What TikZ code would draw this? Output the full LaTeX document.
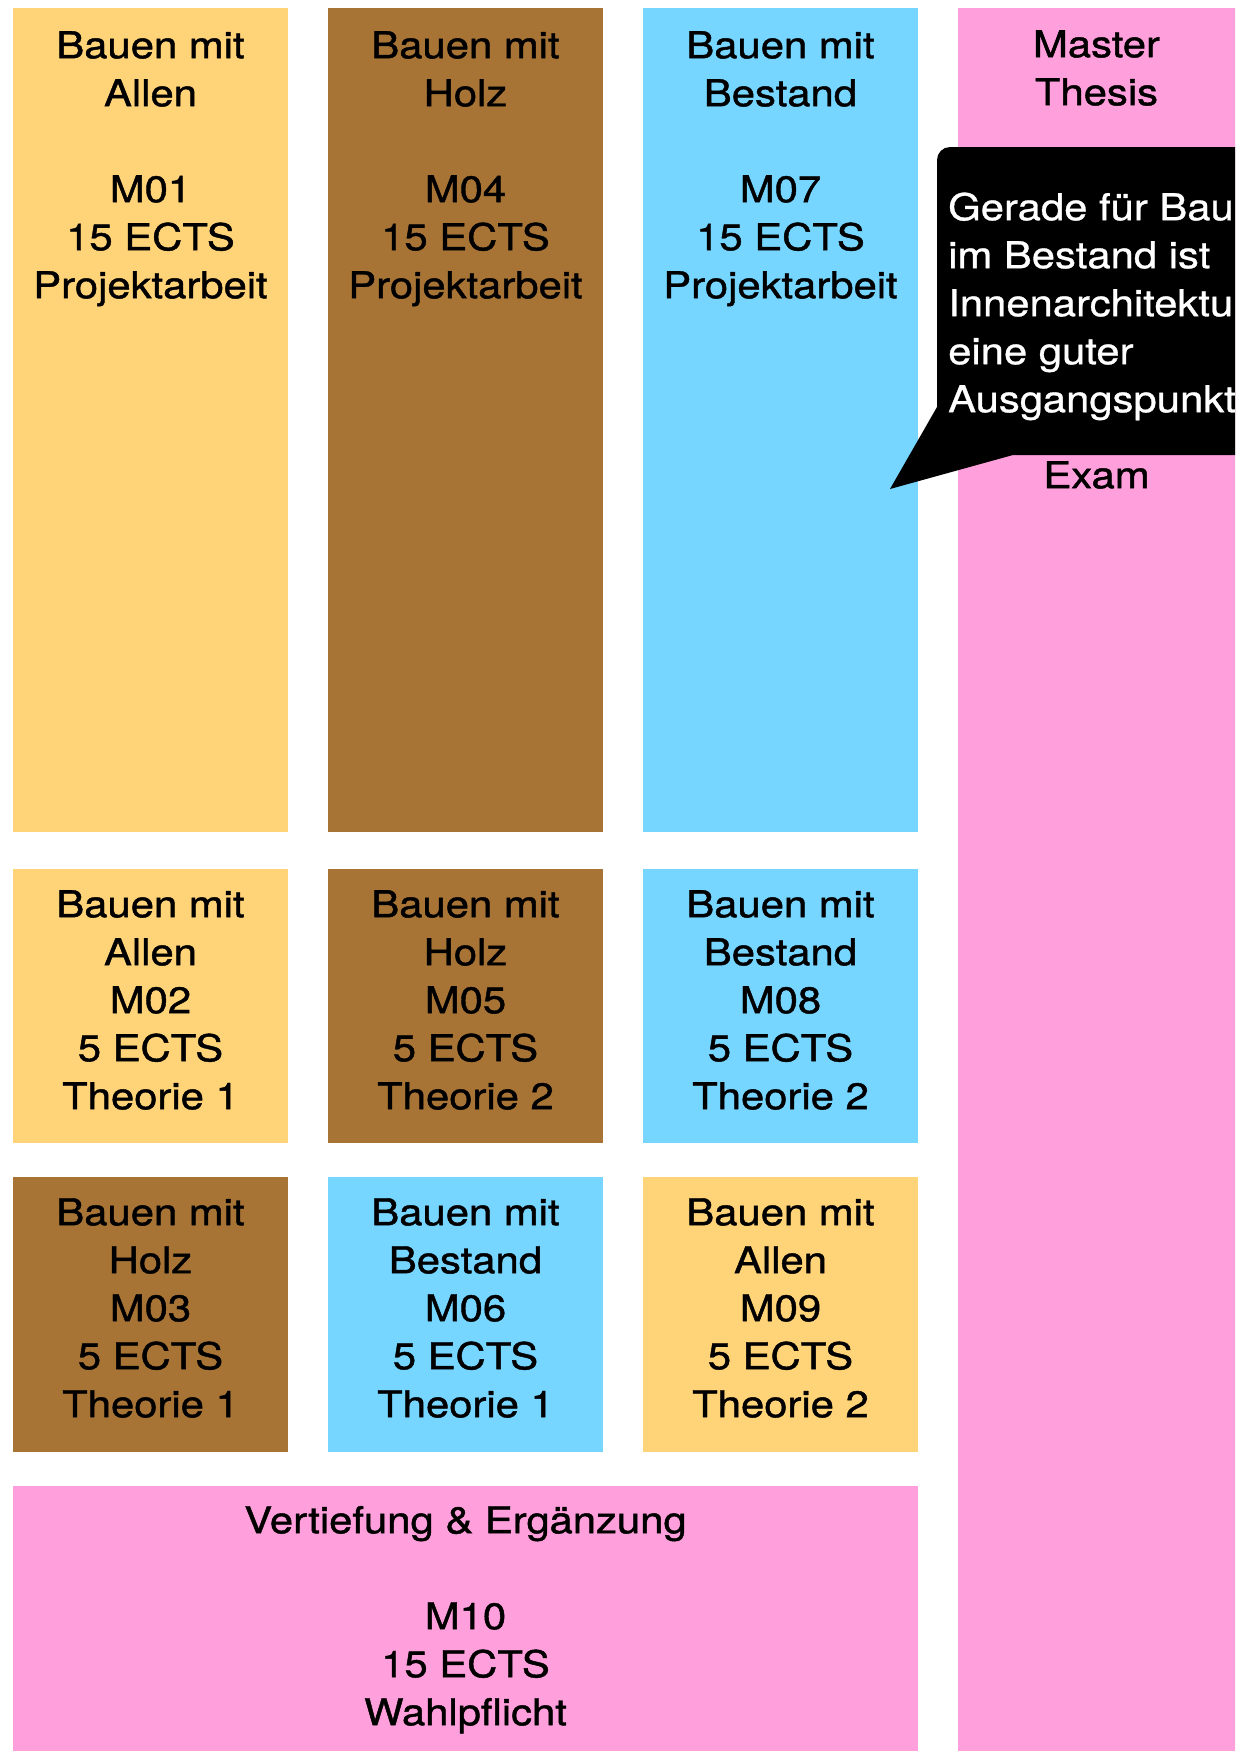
\documentclass[tikz,border=0pt]{standalone}
\usepackage{fontspec}
\newfontfamily\boxfont{TeX Gyre Heros}[FakeStretch=1.13,FakeBold=1.2]
\newfontfamily\notefont{TeX Gyre Heros}[FakeStretch=1.13,FakeBold=0.8]
\definecolor{cyel}{HTML}{FFD479}
\definecolor{cbrn}{HTML}{A87436}
\definecolor{cblu}{HTML}{76D6FF}
\definecolor{cpnk}{HTML}{FFA0DD}
\newcommand\myst{\rule{0pt}{37pt}}
\begin{document}
\begin{tikzpicture}[x=1pt,y=-1pt,
  modbox/.style={draw=none, inner sep=0pt, outer sep=0pt, anchor=north west, minimum width=275pt},
  lbl/.style={inner sep=0pt, align=center, anchor=north, font=\boxfont\fontsize{37}{48}\selectfont},
  notetext/.style={inner sep=0pt, align=left, anchor=north west, text=white, font=\notefont\fontsize{37}{48}\selectfont}]
\clip (0,0) rectangle (1235,1751);
\fill[white] (0,0) rectangle (1235,1751);
% top row
\node[modbox, fill=cyel, minimum height=824pt] (b01) at (13,8) {};
\node[modbox, fill=cbrn, minimum height=824pt] (b04) at (328,8) {};
\node[modbox, fill=cblu, minimum height=824pt] (b07) at (643,8) {};
% row 2
\node[modbox, fill=cyel, minimum height=274pt] (b02) at (13,869) {};
\node[modbox, fill=cbrn, minimum height=274pt] (b05) at (328,869) {};
\node[modbox, fill=cblu, minimum height=274pt] (b08) at (643,869) {};
% row 3
\node[modbox, fill=cbrn, minimum height=275pt] (b03) at (13,1177) {};
\node[modbox, fill=cblu, minimum height=275pt] (b06) at (328,1177) {};
\node[modbox, fill=cyel, minimum height=275pt] (b09) at (643,1177) {};
% bottom
\node[modbox, fill=cpnk, minimum width=905pt, minimum height=300pt] (b10) at (13,1486) {};
% master column
\node[modbox, fill=cpnk, minimum width=300pt, minimum height=1760pt] (b11) at (958,8) {};
% texts
\node[lbl] (t01) at (150.5,21) {\myst Bauen mit\\Allen\\[48pt]M01\\15 ECTS\\Projektarbeit};
\node[lbl] (t04) at (465.5,21) {\myst Bauen mit\\Holz\\[48pt]M04\\15 ECTS\\Projektarbeit};
\node[lbl] (t07) at (780.5,21) {\myst Bauen mit\\Bestand\\[48pt]M07\\15 ECTS\\Projektarbeit};
\node[lbl] (t02) at (150.5,880) {\myst Bauen mit\\Allen\\M02\\5 ECTS\\Theorie 1};
\node[lbl] (t05) at (465.5,880) {\myst Bauen mit\\Holz\\M05\\5 ECTS\\Theorie 2};
\node[lbl] (t08) at (780.5,880) {\myst Bauen mit\\Bestand\\M08\\5 ECTS\\Theorie 2};
\node[lbl] (t03) at (150.5,1188) {\myst Bauen mit\\Holz\\M03\\5 ECTS\\Theorie 1};
\node[lbl] (t06) at (465.5,1188) {\myst Bauen mit\\Bestand\\M06\\5 ECTS\\Theorie 1};
\node[lbl] (t09) at (780.5,1188) {\myst Bauen mit\\Allen\\M09\\5 ECTS\\Theorie 2};
\node[lbl] (t10) at (465.5,1496) {\myst Vertiefung \& Ergänzung\\[48pt]M10\\15 ECTS\\Wahlpflicht};
\node[lbl] (t11) at (1096.5,20) {\myst Master\\Thesis};
\node[lbl] (t12) at (1096.5,451) {\myst Exam};
% callout
\fill[black] (1300,147) [rounded corners=13pt] -- (937,147) [sharp corners] -- (937,407) -- (890,489) -- (1013,455) -- (1300,455) -- cycle;
\node[notetext] (note) at (948,183) {\myst Gerade für Bauen\\im Bestand ist\\Innenarchitektur\\eine guter\\Ausgangspunkt};
\end{tikzpicture}
\end{document}
